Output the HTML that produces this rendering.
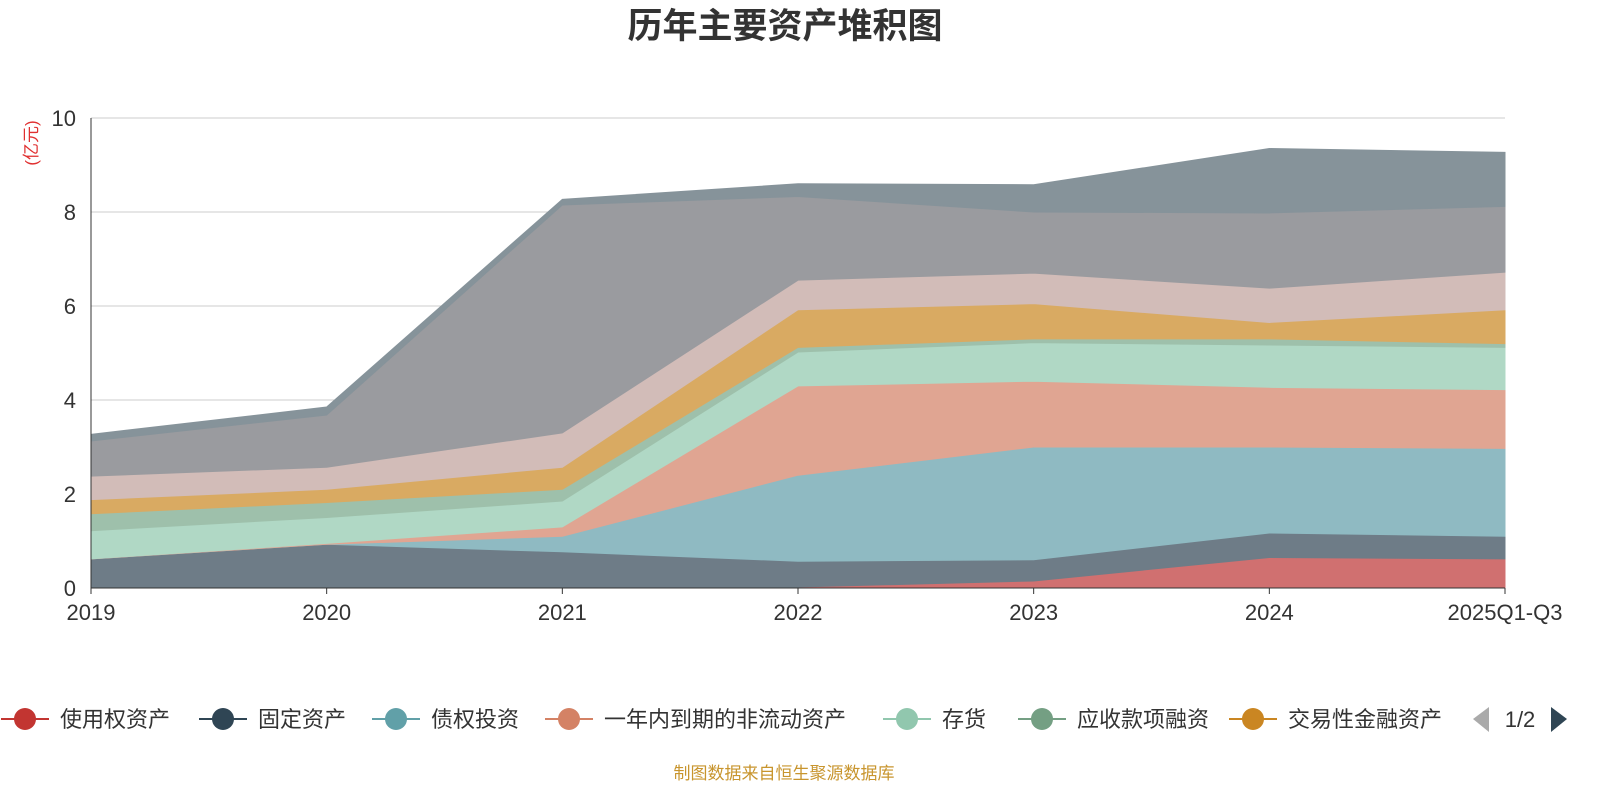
<!DOCTYPE html>
<html><head><meta charset="utf-8"><style>
body{margin:0;background:#fff;font-family:"Liberation Sans","Noto Sans CJK SC",sans-serif;}
svg text{font-family:"Liberation Sans","Noto Sans CJK SC",sans-serif;}
</style></head><body>
<svg id="chart" width="1600" height="800">
<text x="785" y="38" text-anchor="middle" font-size="35" font-weight="bold" fill="#333">历年主要资产堆积图</text>
<text transform="translate(37,143) rotate(-90)" text-anchor="middle" font-size="17" fill="#e03030">(亿元)</text>
<g id="grid"></g><g id="areas"></g><g id="axes"></g>
<g id="legend"></g>
<text x="784" y="779" text-anchor="middle" font-size="17" fill="#c8952e">制图数据来自恒生聚源数据库</text>
</svg>
<script>
const categories=["2019","2020","2021","2022","2023","2024","2025Q1-Q3"];
const seriesNames=["使用权资产","固定资产","债权投资","一年内到期的非流动资产","存货","应收款项融资","交易性金融资产","其他非流动金融资产","长期股权投资","其他"];
const s0=[0,0,0,0.02,0.15,0.65,0.62];
const s1=[0.62,0.93,0.77,0.55,0.45,0.52,0.48];
const s2=[0,0,0.33,1.83,2.4,1.83,1.87];
const s3=[0,0.02,0.2,1.9,1.4,1.27,1.25];
const s4=[0.6,0.55,0.55,0.72,0.82,0.9,0.9];
const s5=[0.36,0.32,0.25,0.1,0.08,0.13,0.08];
const s6=[0.3,0.28,0.47,0.8,0.75,0.35,0.72];
const s7=[0.5,0.47,0.73,0.63,0.65,0.73,0.8];
const s8=[0.75,1.11,4.85,1.78,1.3,1.6,1.4];
const s9=[0.14,0.17,0.12,0.27,0.58,1.37,1.15];
const yTicks=[0,2,4,6,8,10];
const series=[s0,s1,s2,s3,s4,s5,s6,s7,s8,s9];
const fills=["#d07070","#6e7c87","#8fbac2","#e0a592","#b0d8c5","#9ec0ab","#d9aa62","#d2bcb8","#9a9b9f","#86939a"];
const legendColors=["#c23531","#2f4554","#61a0a8","#d48265","#91c7ae","#749f83","#ca8622"];
const NS="http://www.w3.org/2000/svg";
const X0=91,X1=1505,Y0=588,Y1=118;
const x=i=>X0+(X1-X0)*i/(categories.length-1);
const y=v=>Y0-(Y0-Y1)*v/10;
function mk(t,a,p){const e=document.createElementNS(NS,t);for(const k in a)e.setAttribute(k,a[k]);p.appendChild(e);return e;}
const grid=document.getElementById('grid'),areas=document.getElementById('areas'),axes=document.getElementById('axes'),legend=document.getElementById('legend');
yTicks.forEach(t=>{
 const l=mk('line',{x1:X0,x2:X1,y1:y(t),y2:y(t),stroke:t===0?'#333':'#ccc'},grid);
 
 
 const tx=mk('text',{x:X0-15,y:y(t)+8,'text-anchor':'end','font-size':22,fill:'#333'},axes);tx.textContent=t;
 
 
});
let base=categories.map(()=>0);
series.forEach((s,k)=>{
 const top=base.map((b,i)=>b+s[i]);
 let d='M'+top.map((v,i)=>x(i)+','+y(v)).join('L');
 for(let i=categories.length-1;i>=0;i--)d+='L'+x(i)+','+y(base[i]);
 const p=mk('path',{d:d+'Z',fill:fills[k],stroke:fills[k],'stroke-width':1},areas);
 
 
 base=top;
});
mk('line',{x1:X0,x2:X0,y1:Y1,y2:Y0,stroke:'#333'},axes);
mk('line',{x1:X0,x2:X1,y1:Y0,y2:Y0,stroke:'#333'},axes);
categories.forEach((c,i)=>{
 mk('line',{x1:x(i),x2:x(i),y1:Y0,y2:Y0+6,stroke:'#333'},axes);
 const tx=mk('text',{x:x(i),y:Y0+32,'text-anchor':'middle','font-size':22,fill:'#333'},axes);tx.textContent=c;
 
 
});
const lx=[25,223,396,569,907,1042,1253];
for(let k=0;k<7;k++){
 const g=mk('g',{},legend);
 
 
 mk('line',{x1:lx[k]-24,x2:lx[k]+24,y1:719,y2:719,stroke:legendColors[k],'stroke-width':2},g);
 mk('circle',{cx:lx[k],cy:719,r:11,fill:legendColors[k]},g);
 const t=mk('text',{x:lx[k]+35,y:727,'font-size':22,fill:'#333'},g);t.textContent=seriesNames[k];
}
const pl=mk('path',{d:'M1489,707L1473,719L1489,732Z',fill:'#aaa'},legend);


const pt=mk('text',{x:1520,y:727,'text-anchor':'middle','font-size':22,fill:'#333'},legend);pt.textContent='1/2';


const pr=mk('path',{d:'M1551,707L1567,719L1551,732Z',fill:'#2f4554'},legend);


</script>
</body></html>
